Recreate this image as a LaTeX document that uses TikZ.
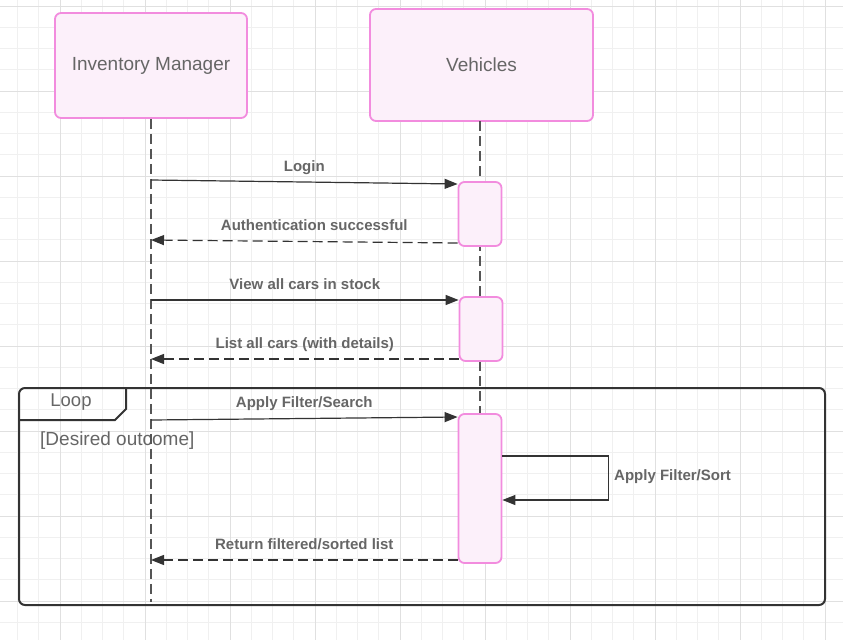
\documentclass[tikz,border=0pt]{standalone}
\usepackage{fontspec}
\setmainfont{Liberation Sans}
\usetikzlibrary{arrows.meta,positioning,calc}
\definecolor{rose}{RGB}{242,140,222}
\definecolor{rosefond}{RGB}{252,240,250}
\definecolor{gristexte}{RGB}{102,102,102}
\definecolor{gristrait}{RGB}{85,85,85}
\definecolor{fleche}{RGB}{51,51,51}
\definecolor{grillefine}{RGB}{240,240,240}
\definecolor{grillemaj}{RGB}{224,224,224}

\begin{document}
\begin{tikzpicture}[x=1pt, y=-1pt,
    acteur/.style={draw=rose, fill=rosefond, line width=1.8pt, rounded corners=6pt, text=gristexte, font=\fontsize{19}{23}\selectfont},
    activ/.style={draw=rose, fill=rosefond, line width=1.8pt, rounded corners=6pt, minimum width=43pt},
    vie/.style={gristrait, line width=1.2pt, dash pattern=on 10pt off 5pt},
    msg/.style={fleche, line width=1.2pt, -{Triangle[length=13pt,width=10pt]}},
    retour/.style={msg, dash pattern=on 10pt off 5pt},
    etiq/.style={text=gristexte, font=\bfseries\fontsize{15}{18}\selectfont, inner sep=0pt, text height=11pt, text depth=3pt},
    cadre/.style={fleche, line width=2pt}]
% Fond
\useasboundingbox (0,0) rectangle (843,640);
\fill[white] (0,0) rectangle (843,640);

% Grille fine
\foreach \i in {-1,...,39} {
    \draw[grillefine, line width=0.8pt] (17.5+21.25*\i,0) -- ++(0,640);
}
\foreach \i in {0,...,30} {
    \draw[grillefine, line width=0.8pt] (0,6+21.25*\i) -- ++(843,0);
}
% Grille principale
\foreach \x in {60,145,...,825} {
    \draw[grillemaj, line width=0.8pt] (\x,0) -- (\x,640);
}
\foreach \y in {6,91,...,601} {
    \draw[grillemaj, line width=0.8pt] (0,\y) -- (843,\y);
}

% Cadre Loop
\draw[cadre, rounded corners=6pt] (19,388) rectangle (825,605);
\draw[cadre] (19,420) -- (115,420) -- (126,409) -- (126,388);
\node[text=gristexte, font=\fontsize{18.5}{22}\selectfont] (boucle) at (71,402) {Loop};
\node[right, inner sep=0pt, text=gristexte, font=\fontsize{19}{23}\selectfont] (garde) at (40,441) {[Desired outcome]};

% Acteurs
\node[acteur, minimum width=192pt, minimum height=105pt] (im) at (151,65.5) {Inventory Manager};
\node[acteur, minimum width=223pt, minimum height=112pt] (veh) at (481.5,65) {Vehicles};

% Lignes de vie
\coordinate (im-fin) at (151,602);
\draw[vie] (im.south) -- (im-fin);
\coordinate (veh-haut) at (480,121);
\coordinate (veh-bas) at (480,414);
\draw[vie] (veh-haut) -- (veh-bas);

% Activations
\node[activ, minimum height=64pt] (act1) at (480,214) {};
\node[activ, minimum height=64pt] (act2) at (481,329) {};
\node[activ, minimum height=149pt] (act3) at (480,488.5) {};

% Messages
\coordinate (m1) at (151,180);
\draw[msg] (m1) -- (act1.west |- 0,184) node[etiq, midway, above=7pt] (l1) {Login};
\coordinate (m2) at (151,240);
\draw[retour] (act1.west |- 0,243) -- (m2) node[etiq, midway, above=7pt, xshift=10pt] (l2) {Authentication successful};
\coordinate (m3) at (151,300);
\draw[msg] (m3) -- (act2.west |- 0,300) node[etiq, midway, above=7pt] (l3) {View all cars in stock};
\coordinate (m4) at (151,359);
\draw[retour] (act2.west |- 0,359) -- (m4) node[etiq, midway, above=7pt] (l4) {List all cars (with details)};
\coordinate (m5) at (151,420);
\draw[msg] (m5) -- (act3.west |- 0,417) node[etiq, midway, above=7pt] (l5) {Apply Filter/Search};
\draw[msg] (act3.east |- 0,456) -- ++(106,0) |- (act3.east |- 0,500);
\node[etiq, right] (l6) at (614,476) {Apply Filter/Sort};
\coordinate (m7) at (151,560);
\draw[retour] (act3.west |- 0,560) -- (m7) node[etiq, midway, above=7pt] (l7) {Return filtered/sorted list};

\end{tikzpicture}
\end{document}
